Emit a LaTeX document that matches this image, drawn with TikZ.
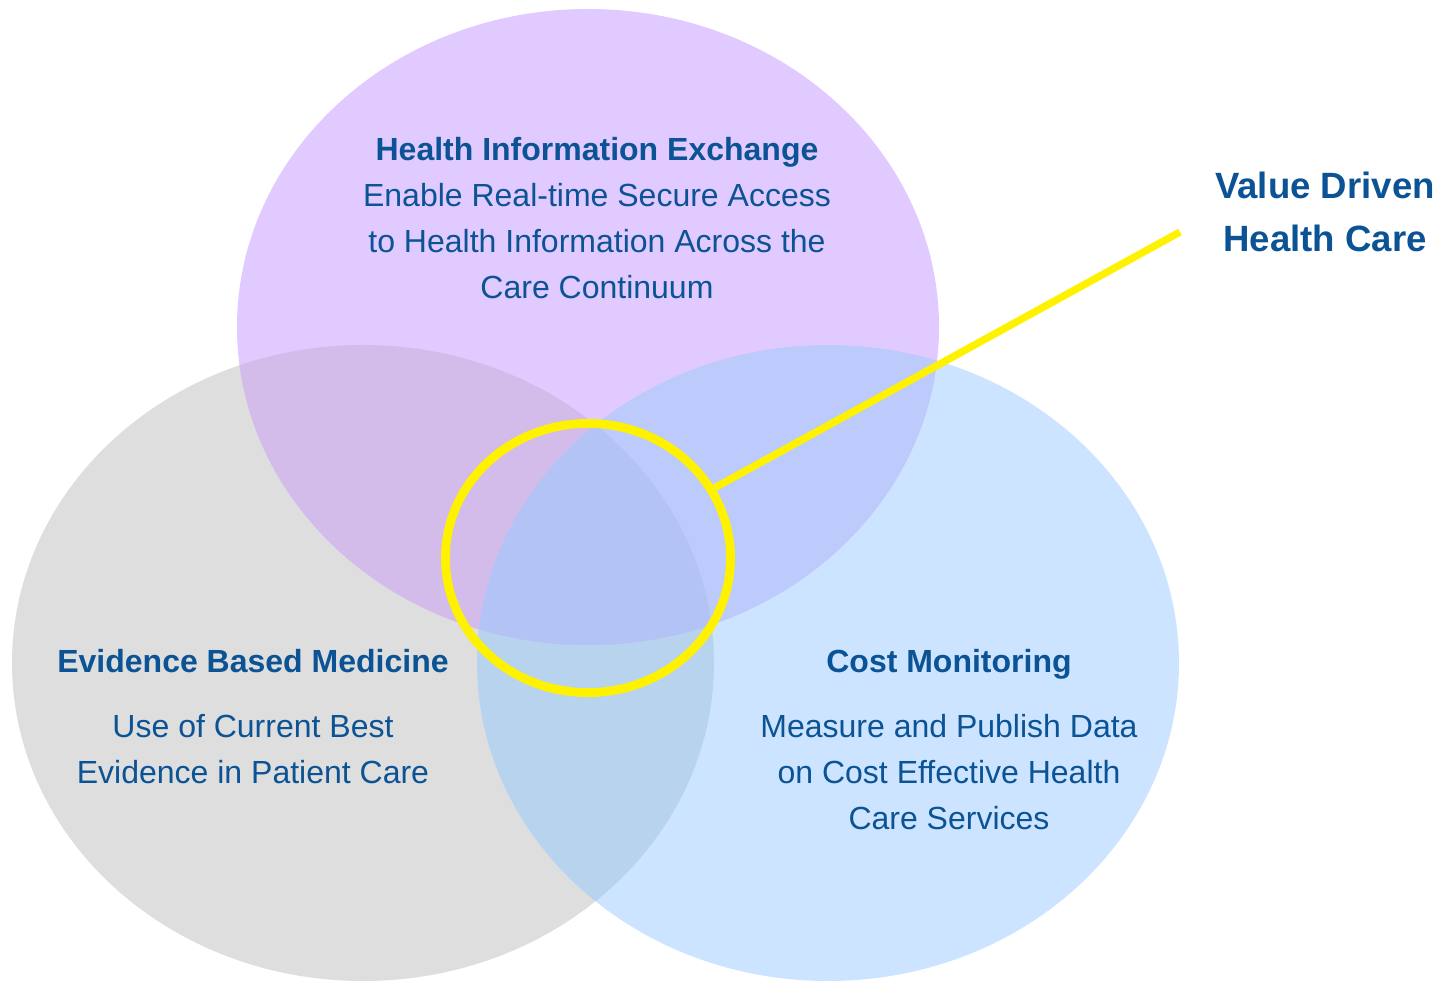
\documentclass[tikz,border=0pt]{standalone}
\usepackage{fontspec}
\setmainfont{Liberation Sans}
\usetikzlibrary{positioning,shapes.geometric}

\definecolor{hiepurple}{HTML}{E1CAFF}
\definecolor{ebmgray}{HTML}{DEDEDE}
\definecolor{cmblue}{HTML}{CCE4FF}
\definecolor{purplegray}{HTML}{D3BBEA}
\definecolor{purpleblue}{HTML}{BCCAFC}
\definecolor{grayblue}{HTML}{B8D3EE}
\definecolor{allthree}{HTML}{B4C3F5}
\definecolor{textblue}{HTML}{0B5394}

% the three circles of the diagram
\def\hiearea{(588,327) ellipse [x radius=351, y radius=318]}
\def\ebmarea{(363,663) ellipse [x radius=351, y radius=318]}
\def\cmarea{(828,663) ellipse [x radius=351, y radius=318]}

\tikzset{
  title/.style={font=\fontsize{9.1}{13.1}\selectfont\bfseries, text=textblue, align=center, inner sep=0pt},
  body/.style={font=\fontsize{9.1}{13.1}\selectfont, text=textblue, align=center, inner sep=0pt},
  bigtitle/.style={font=\fontsize{10.4}{15.1}\selectfont\bfseries, text=textblue, align=center, inner sep=0pt},
  ring/.style={ellipse, draw=yellow, line width=2.5pt, minimum width=2.85cm, minimum height=2.69cm, inner sep=0pt},
  pointer/.style={draw=yellow, line width=2.1pt},
}

\begin{document}
\begin{tikzpicture}[x=0.01cm, y=-0.01cm]
\useasboundingbox (0,0) rectangle (1454,982);

\fill[ebmgray] \ebmarea;
\fill[cmblue] \cmarea;
\fill[hiepurple] \hiearea;

% overlaps
\begin{scope}
  \clip \ebmarea;
  \fill[grayblue] \cmarea;
\end{scope}
\begin{scope}
  \clip \hiearea;
  \fill[purplegray] \ebmarea;
\end{scope}
\begin{scope}
  \clip \hiearea;
  \fill[purpleblue] \cmarea;
\end{scope}
\begin{scope}
  \clip \hiearea;
  \clip \ebmarea;
  \fill[allthree] \cmarea;
\end{scope}

% texts
\node[title] (hietitle) at (597,152) {Health Information Exchange};
\node[body] (hiebody) at (597,241) {Enable Real-time Secure Access\\to Health Information Across the\\Care Continuum};

\node[title] (ebmtitle) at (253,661) {Evidence Based Medicine};
\node[body] (ebmbody) at (253,749) {Use of Current Best\\Evidence in Patient Care};

\node[title] (cmtitle) at (949,664) {Cost Monitoring};
\node[body] (cmbody) at (949,772) {Measure and Publish Data\\on Cost Effective Health\\Care Services};

\node[bigtitle] (value) at (1325,212) {Value Driven\\Health Care};

% highlight of the centre
\node[ring] (ring) at (588,558) {};
\coordinate (tip) at (1180,232);
\draw[pointer] (ring.29) -- (tip);
\end{tikzpicture}
\end{document}
